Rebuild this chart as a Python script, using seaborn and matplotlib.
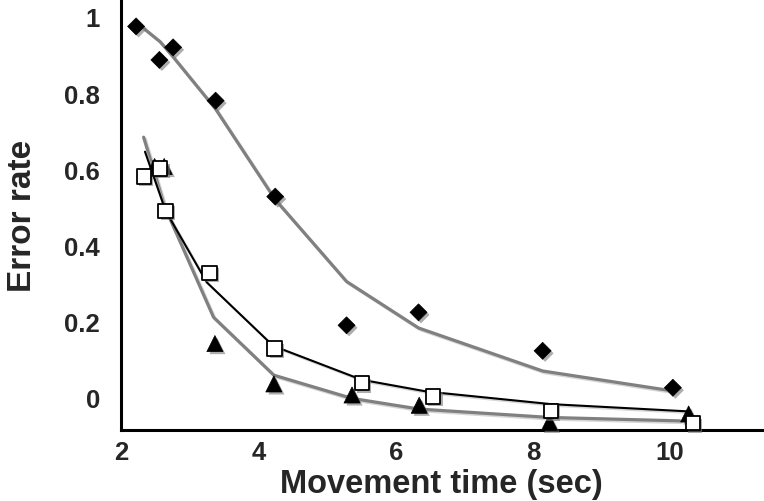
import matplotlib
matplotlib.use("Agg")
import matplotlib.pyplot as plt
import matplotlib.patheffects as pe
import numpy as np
import pandas as pd
import seaborn as sns

# ---- data ----
diamond_x = [2.21, 2.55, 2.75, 3.37, 4.24, 5.28, 6.33, 8.14, 10.04]
diamond_y = [0.975, 0.887, 0.920, 0.780, 0.528, 0.190, 0.224, 0.123, 0.026]
diamond_fit_x = [2.32, 2.56, 2.75, 3.37, 4.24, 5.28, 6.33, 8.14, 9.95]
diamond_fit_y = [0.970, 0.935, 0.895, 0.758, 0.520, 0.305, 0.183, 0.070, 0.020]

square_x = [2.32, 2.56, 2.64, 3.28, 4.23, 5.50, 6.54, 8.26, 10.33]
square_y = [0.581, 0.602, 0.491, 0.328, 0.129, 0.038, 0.003, -0.035, -0.067]
square_fit_x = [2.34, 2.64, 3.24, 4.21, 5.50, 6.45, 8.26, 10.25]
square_fit_y = [0.646, 0.491, 0.303, 0.136, 0.047, 0.016, -0.017, -0.036]

triangle_x = [2.48, 2.62, 3.36, 4.22, 5.36, 6.34, 8.24, 10.27]
triangle_y = [0.607, 0.607, 0.142, 0.036, 0.007, -0.020, -0.065, -0.043]
triangle_fit_x = [2.32, 2.63, 3.34, 4.22, 5.36, 6.34, 8.24, 10.14]
triangle_fit_y = [0.684, 0.500, 0.211, 0.059, -0.002, -0.030, -0.052, -0.061]

x_ticks = [2, 4, 6, 8, 10]
y_ticks = [0, 0.2, 0.4, 0.6, 0.8, 1.0]
y_tick_labels = ["0", "0.2", "0.4", "0.6", "0.8", "1"]
x_label = "Movement time (sec)"
y_label = "Error rate"

# ---- style ----
sns.set_style("white")
plt.rcParams["font.family"] = ["Liberation Sans", "DejaVu Sans"]
plt.rcParams["font.weight"] = "bold"

fig = plt.figure(figsize=(7.64, 5.02), dpi=100)
ax = fig.add_axes([121 / 764, 71 / 502, (762 - 121) / 764, 431 / 502])

gray = "#808080"
line_shadow = [pe.SimpleLineShadow(offset=(1.2, -1.2), shadow_color="#bbbbbb", alpha=0.6), pe.Normal()]
mark_shadow = [pe.SimplePatchShadow(offset=(1.8, -1.8), shadow_rgbFace="#777777", alpha=0.6), pe.Normal()]

df_dfit = pd.DataFrame({"x": diamond_fit_x, "y": diamond_fit_y})
df_sfit = pd.DataFrame({"x": square_fit_x, "y": square_fit_y})
df_tfit = pd.DataFrame({"x": triangle_fit_x, "y": triangle_fit_y})

sns.lineplot(data=df_dfit, x="x", y="y", sort=False, estimator=None, color=gray, lw=2.3, ax=ax)
sns.lineplot(data=df_tfit, x="x", y="y", sort=False, estimator=None, color=gray, lw=2.3, ax=ax)
sns.lineplot(data=df_sfit, x="x", y="y", sort=False, estimator=None, color="black", lw=1.5, ax=ax)
for ln in ax.lines:
    ln.set_path_effects(line_shadow)

df_d = pd.DataFrame({"x": diamond_x, "y": diamond_y})
df_t = pd.DataFrame({"x": triangle_x, "y": triangle_y})
df_s = pd.DataFrame({"x": square_x, "y": square_y})

sns.scatterplot(data=df_d, x="x", y="y", marker="D", s=75, color="black",
                edgecolor="black", linewidth=0.5, ax=ax, zorder=3)
sns.scatterplot(data=df_t, x="x", y="y", marker="^", s=135, color="black",
                edgecolor="black", linewidth=0.5, ax=ax, zorder=3)
sns.scatterplot(data=df_s, x="x", y="y", marker="s", s=105, color="white",
                edgecolor="black", linewidth=1.3, ax=ax, zorder=4)
for coll in ax.collections:
    coll.set_path_effects(mark_shadow)
    coll.set_clip_on(False)

ax.set_xlim(1.99, 11.34)
ax.set_ylim(-0.085, 1.047)
ax.set_xticks(x_ticks)
ax.set_xticklabels([str(v) for v in x_ticks])
ax.set_yticks(y_ticks)
ax.set_yticklabels(y_tick_labels)
ax.tick_params(axis="both", length=0, labelsize=18.5)
ax.tick_params(axis="y", pad=15)
ax.tick_params(axis="x", pad=7)
for lab in ax.get_xticklabels() + ax.get_yticklabels():
    lab.set_fontweight("bold")

ax.set_xlabel(x_label, fontsize=23.5, fontweight="bold", labelpad=3)
ax.set_ylabel(y_label, fontsize=24, fontweight="bold", labelpad=19)

for side in ["top", "right"]:
    ax.spines[side].set_visible(False)
for side in ["left", "bottom"]:
    ax.spines[side].set_color("black")
    ax.spines[side].set_linewidth(2.2)

fig.savefig("out.png", dpi=100, facecolor="white")
